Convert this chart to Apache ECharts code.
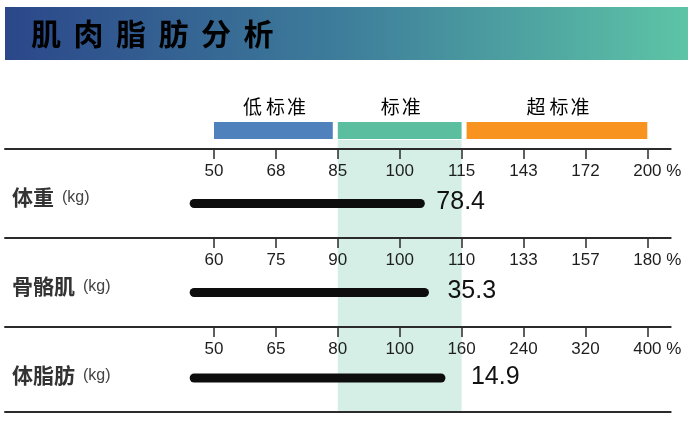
<!DOCTYPE html>
<html><head><meta charset="utf-8">
<script src="https://cdn.jsdelivr.net/npm/echarts@6/dist/echarts.min.js"></script>
<style>html,body{margin:0;padding:0;background:#fff}#c{width:700px;height:429px}</style>
</head><body><div id="c"></div>
<script>
// ---------- data ----------
const titleText = '肌肉脂肪分析';
const legendLabels = ['低标准', '标准', '超标准'];
const rowNames = ['体重', '骨骼肌', '体脂肪'];
const rowUnit = '(kg)';
const tickLabelsWeight = ['50', '68', '85', '100', '115', '143', '172', '200'];
const tickLabelsMuscle = ['60', '75', '90', '100', '110', '133', '157', '180'];
const tickLabelsFat = ['50', '65', '80', '100', '160', '240', '320', '400'];
const percentValues = [105, 104, 140];   // % of standard, per row
const kgValues = [78.4, 35.3, 14.9];     // measured kg, per row
const standardRange = [2, 4];            // tick index range of "标准"
const tickIndex = [0, 1, 2, 3, 4, 5, 6, 7];

// ---------- style / layout ----------
const tickSets = [tickLabelsWeight, tickLabelsMuscle, tickLabelsFat];
const LINE_TOPS = [149, 238, 327];
const BOTTOM_LINE = 411.5;
const GRID_H = 109;
const GRID_LEFT = 5, GRID_RIGHT = 29.3;
const AXIS_MIN = -3.376, AXIS_MAX = 7.378;
const BAR_START = -0.32;
const LABEL_OFFSETS = [16, 23, 30];
const NUM_FONT = '"Liberation Sans", Arial, sans-serif';
const CJK_FONT = '"Noto Sans CJK SC", "Noto Sans", sans-serif';

// piecewise-linear scale: percentage -> tick index position
function toAxis(p, ticks) {
  const v = ticks.map(Number);
  for (let i = 0; i < v.length - 1; i++) {
    if (p <= v[i + 1] || i === v.length - 2) return i + (p - v[i]) / (v[i + 1] - v[i]);
  }
}

const chart = echarts.init(document.getElementById('c'), null, {renderer: 'canvas'});

const grids = [], xAxes = [], yAxes = [], series = [];
for (let i = 0; i < 3; i++) {
  const labels = tickSets[i];
  grids.push({left: GRID_LEFT, right: GRID_RIGHT, top: LINE_TOPS[i], height: GRID_H});
  xAxes.push({
    gridIndex: i, type: 'value', position: 'top', min: AXIS_MIN, max: AXIS_MAX,
    splitLine: {show: false},
    axisLine: {show: true, lineStyle: {color: '#2b2b2b', width: 2}},
    axisTick: {show: true, inside: true, length: 10, customValues: tickIndex,
      lineStyle: {color: '#2b2b2b', width: 1.5}},
    axisLabel: {
      show: true, inside: true, margin: 14, customValues: tickIndex,
      color: '#1e1e1e', fontSize: 17, fontFamily: NUM_FONT,
      formatter: function (v) {
        const k = Math.round(v);
        const t = labels[k];
        return k === labels.length - 1 ? '{pad| }' + t + '{u| %}' : t;
      },
      rich: {
        pad: {width: 20, fontSize: 17, fontFamily: NUM_FONT},
        u: {fontSize: 17, fontFamily: NUM_FONT, color: '#1e1e1e'}
      }
    }
  });
  yAxes.push({gridIndex: i, type: 'category', data: [rowNames[i]], show: false});
  const off = LABEL_OFFSETS[i];
  series.push({
    type: 'custom', xAxisIndex: i, yAxisIndex: i, z: 5,
    encode: {x: [0, 1], y: 2},
    data: [[BAR_START, toAxis(percentValues[i], labels), 0, kgValues[i]]],
    renderItem: function (params, api) {
      const s = api.coord([api.value(0), 0]);
      const e = api.coord([api.value(1), 0]);
      return {type: 'group', children: [
        {type: 'line', shape: {x1: s[0], y1: s[1], x2: e[0], y2: e[1]},
          style: {stroke: '#0d0d0d', lineWidth: 9, lineCap: 'round'}},
        {type: 'text', style: {x: e[0] + off, y: e[1] - 1, text: String(api.value(3)),
          fill: '#111', fontSize: 25, fontFamily: NUM_FONT, align: 'left', verticalAlign: 'middle'}}
      ]};
    }
  });
}
// bottom closing line
grids.push({left: GRID_LEFT, right: GRID_RIGHT, top: BOTTOM_LINE, height: 1});
xAxes.push({gridIndex: 3, type: 'value', position: 'top', min: AXIS_MIN, max: AXIS_MAX,
  splitLine: {show: false}, axisTick: {show: false}, axisLabel: {show: false},
  axisLine: {show: true, lineStyle: {color: '#2b2b2b', width: 2}}});
yAxes.push({gridIndex: 3, type: 'category', data: [''], show: false});

chart.setOption({
  animation: false,
  grid: grids, xAxis: xAxes, yAxis: yAxes, series: series
});

// ---------- decorations positioned from the axis scale ----------
function px(v) { return chart.convertToPixel({xAxisIndex: 0}, v); }
function spaced(text, name) {
  const chars = Array.from(text);
  return chars.map((c, k) => '{' + (k < chars.length - 1 ? name : name + 'l') + '|' + c + '}').join('');
}
const x0 = px(0), x2 = px(standardRange[0]), x4 = px(standardRange[1]), x7 = px(7);
const legendBoxes = [
  [x0, x2 - 5, '#4F81BD'],
  [x2, x4, '#5BBF9F'],
  [x4 + 5, x7, '#F7931E']
];
const graphic = [];
graphic.push({type: 'rect', z: -10, shape: {x: x2, y: 140, width: x4 - x2, height: BOTTOM_LINE - 140},
  style: {fill: '#D5EFE6'}});
graphic.push({type: 'rect', shape: {x: 5, y: 7, width: 683, height: 53},
  style: {fill: new echarts.graphic.LinearGradient(0, 0, 1, 0, [
    {offset: 0, color: '#2B478A'}, {offset: 0.5, color: '#3E7E9B'}, {offset: 1, color: '#5DC4A6'}])}});
graphic.push({type: 'text', style: {x: 31, y: 34, text: spaced(titleText, 't'),
  verticalAlign: 'middle', align: 'left',
  rich: {t: {width: 42.5, fontSize: 30, fontWeight: 'bold', fontFamily: CJK_FONT, color: '#fff'},
         tl: {fontSize: 30, fontWeight: 'bold', fontFamily: CJK_FONT, color: '#fff'}}}});
legendBoxes.forEach((b, k) => {
  graphic.push({type: 'rect', shape: {x: b[0], y: 122, width: b[1] - b[0], height: 17}, style: {fill: b[2]}});
  graphic.push({type: 'text', style: {x: (b[0] + b[1]) / 2, y: 107, text: spaced(legendLabels[k], 'g'),
    align: 'center', verticalAlign: 'middle',
    rich: {g: {width: 23, fontSize: 19, fontFamily: CJK_FONT, color: '#333'},
           gl: {fontSize: 19, fontFamily: CJK_FONT, color: '#333'}}}});
});
rowNames.forEach((n, i) => {
  const y = LINE_TOPS[i] + 48;
  graphic.push({type: 'text', style: {x: 12, y: y, text: n, align: 'left', verticalAlign: 'middle',
    fontSize: 21, fontWeight: 'bold', fontFamily: CJK_FONT, fill: '#333'}});
  graphic.push({type: 'text', style: {x: 12 + Array.from(n).length * 21 + 8, y: y + 1, text: rowUnit,
    align: 'left', verticalAlign: 'middle', fontSize: 16, fontFamily: NUM_FONT, fill: '#444'}});
});
chart.setOption({graphic: graphic});
</script>
</body></html>
